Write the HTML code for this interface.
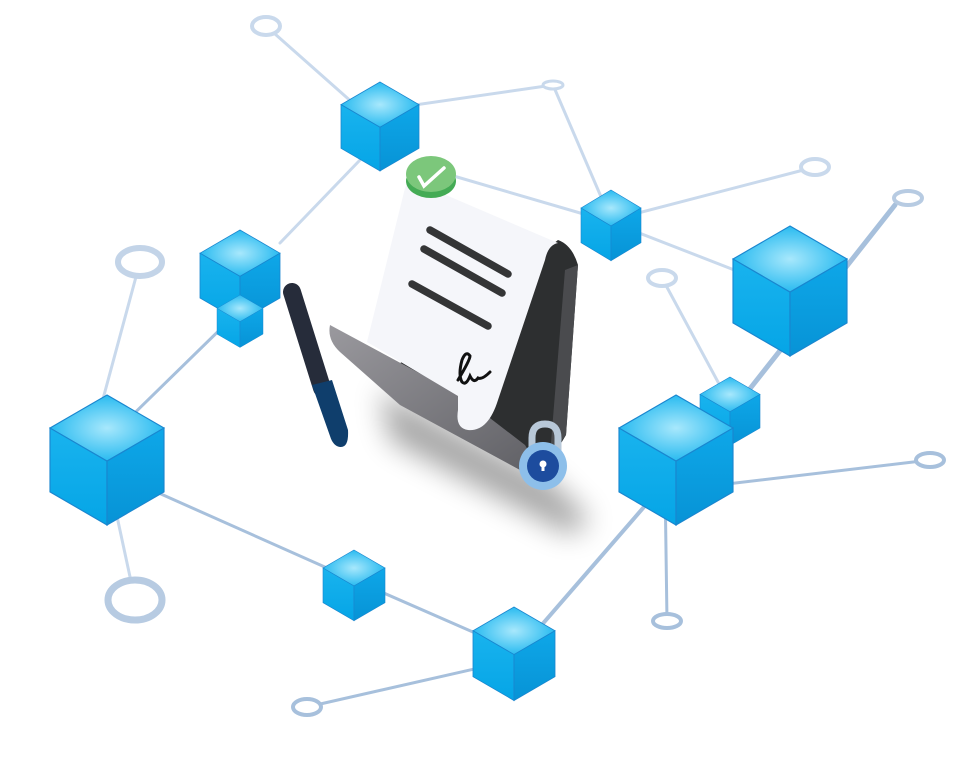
<!DOCTYPE html>
<html><head><meta charset="utf-8"><style>html,body{margin:0;padding:0;background:#fff}svg{display:block}</style></head>
<body>
<svg width="961" height="770" viewBox="0 0 961 770" xmlns="http://www.w3.org/2000/svg">
<defs>
<radialGradient id="tg" cx="50%" cy="50%" r="55%"><stop offset="0" stop-color="#a8e8fc"/><stop offset="1" stop-color="#1cb6ef"/></radialGradient>
<linearGradient id="lg" x1="0" y1="0" x2="0" y2="1"><stop offset="0" stop-color="#19b3ee"/><stop offset="1" stop-color="#05a5e6"/></linearGradient>
<linearGradient id="rg" x1="0" y1="0" x2="0" y2="1"><stop offset="0" stop-color="#0ea7e8"/><stop offset="1" stop-color="#0793d6"/></linearGradient>
<linearGradient id="flap" x1="0" y1="0" x2="1" y2="1"><stop offset="0" stop-color="#9a999e"/><stop offset="1" stop-color="#606065"/></linearGradient>
<filter id="blur" x="-50%" y="-50%" width="200%" height="200%"><feGaussianBlur stdDeviation="14"/></filter>
<g id="cube"><path d="M0,-1 L1,-0.42 L0,0.16 L-1,-0.42Z" fill="url(#tg)"/><path d="M-1,-0.42 L0,0.16 L0,1.28 L-1,0.7Z" fill="url(#lg)"/><path d="M1,-0.42 L0,0.16 L0,1.28 L1,0.7Z" fill="url(#rg)"/></g>
</defs>
<g stroke="#c9d9ec" stroke-width="3" fill="none" stroke-linecap="round">
<line x1="266" y1="26" x2="380" y2="127"/>
<line x1="380" y1="110" x2="553" y2="85"/>
<line x1="553" y1="85" x2="611" y2="220"/>
<line x1="280" y1="243" x2="360" y2="160"/>
<line x1="440" y1="172" x2="611" y2="222"/>
<line x1="611" y1="220" x2="815" y2="167"/>
<line x1="611" y1="222" x2="760" y2="280"/>
<line x1="662" y1="278" x2="725" y2="395"/>
<line x1="135" y1="600" x2="107" y2="470"/>
<line x1="140" y1="262" x2="100" y2="410"/>
</g>
<g stroke="#a7c0dc" stroke-width="3" fill="none" stroke-linecap="round">
<line x1="895" y1="205" x2="745" y2="395" stroke-width="5"/>
<line x1="676" y1="490" x2="930" y2="460"/>
<line x1="665" y1="480" x2="667" y2="621"/>
<line x1="676" y1="470" x2="520" y2="650" stroke-width="4"/>
<line x1="514" y1="660" x2="307" y2="707"/>
<line x1="514" y1="650" x2="354" y2="580"/>
<line x1="354" y1="580" x2="107" y2="470"/>
<line x1="107" y1="440" x2="240" y2="310"/>
</g>
<g fill="#fff" stroke-width="4">
<ellipse cx="266" cy="26" rx="14" ry="9" stroke="#c9d9ec"/>
<ellipse cx="553" cy="85" rx="10" ry="4" stroke="#c9d9ec" stroke-width="3"/>
<ellipse cx="815" cy="167" rx="14" ry="8" stroke="#c9d9ec"/>
<ellipse cx="908" cy="198" rx="14" ry="7" stroke="#b7cbe2"/>
<ellipse cx="662" cy="278" rx="14" ry="8" stroke="#c9d9ec"/>
<ellipse cx="140" cy="262" rx="22" ry="14" stroke="#c3d4e8" stroke-width="6"/>
<ellipse cx="135" cy="600" rx="27" ry="20" stroke="#b7cbe2" stroke-width="7"/>
<ellipse cx="930" cy="460" rx="14" ry="7" stroke="#a7c0dc"/>
<ellipse cx="667" cy="621" rx="14" ry="7" stroke="#a7c0dc"/>
<ellipse cx="307" cy="707" rx="14" ry="8" stroke="#a7c0dc"/>
</g>
<g stroke="#1a86cf" stroke-width="0.02">
<use href="#cube" transform="translate(380,121) scale(39,39)"/>
<use href="#cube" transform="translate(611,221) scale(30,31)"/>
<use href="#cube" transform="translate(240,270) scale(40,40)"/>
<use href="#cube" transform="translate(240,318) scale(23,23)"/>
<use href="#cube" transform="translate(107,452) scale(57,57)"/>
<use href="#cube" transform="translate(354,581) scale(31,31)"/>
<use href="#cube" transform="translate(514,648) scale(41,41)"/>
<use href="#cube" transform="translate(790,283) scale(57,57)"/>
<use href="#cube" transform="translate(730,407) scale(30,30)"/>
<use href="#cube" transform="translate(676,452) scale(57,57)"/>
</g>
<!-- shadow -->
<path d="M380,390 L550,480 L590,520 L570,535 L390,440Z" fill="#000" opacity="0.35" filter="url(#blur)"/>
<!-- pen -->
<line x1="292" y1="292" x2="322" y2="388" stroke="#262c3a" stroke-width="18" stroke-linecap="round"/>
<path d="M312,385 L332,380 L348,430 Q349,448 340,447 Q333,446 330,436Z" fill="#0f3e6c"/>
<!-- scroll -->
<path d="M558,240 Q572,245 578,265 L566,435 L545,470 L400,400 L385,375Z" fill="#2d2f30"/>
<path d="M565,270 L578,265 L566,435 L550,455Z" fill="#4a4b4e"/>
<path d="M330,325 L460,395 L525,445 L540,470 L520,470 L400,405 L340,352 Q327,340 330,325Z" fill="url(#flap)"/>
<path d="M405,188 Q408,180 418,183 L558,243 Q548,245 545,260 L498,400 Q488,432 468,430 Q455,428 458,410 L458,396 L367,342 Z" fill="#f5f6fa"/>
<g stroke="#343536" stroke-width="7.5" stroke-linecap="round">
<line x1="430" y1="230" x2="508" y2="274"/>
<line x1="424" y1="249" x2="502" y2="293"/>
<line x1="412" y1="284" x2="488" y2="326"/>
</g>
<path d="M458,380 Q470,360 470,356 Q466,350 462,360 Q458,375 462,382 Q466,386 470,376 Q474,384 478,378 Q482,380 490,372" fill="none" stroke="#111" stroke-width="3" stroke-linecap="round"/>
<!-- check -->
<ellipse cx="431" cy="181" rx="25" ry="17" fill="#44ab55"/>
<ellipse cx="431" cy="174" rx="25" ry="18" fill="#7cc77b"/>
<path d="M419,177 L424,186 L444,168" fill="none" stroke="#fff" stroke-width="3.5" stroke-linecap="round"/>
<!-- lock -->
<path d="M532,458 L532,438 Q532,424 545,424 Q558,424 558,438 L558,458" fill="none" stroke="#b8c8d8" stroke-width="7"/>
<circle cx="543" cy="466" r="24" fill="#8dbfea"/>
<circle cx="543" cy="466" r="16" fill="#1d4c9e"/>
<circle cx="543" cy="464" r="3.5" fill="#fff"/><rect x="541.5" y="464" width="3" height="7" fill="#fff"/>
</svg>
</body></html>
